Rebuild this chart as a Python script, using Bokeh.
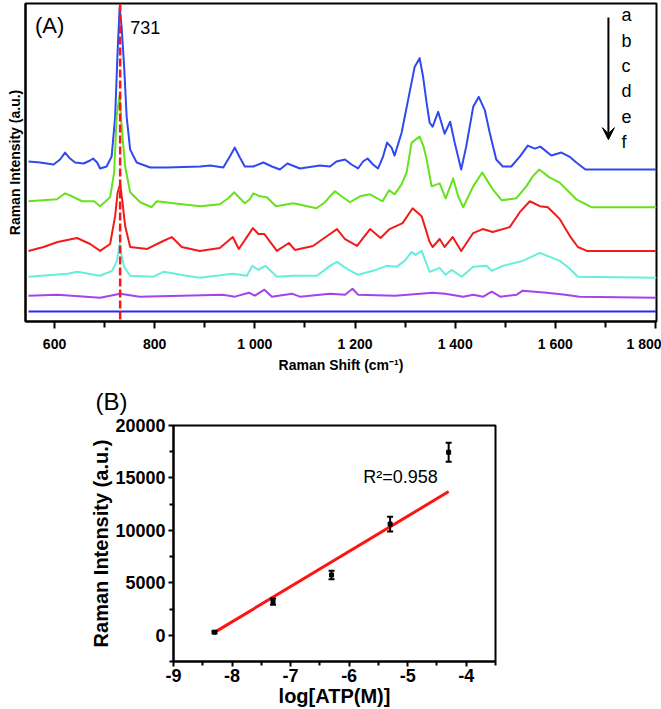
from bokeh.plotting import figure
from bokeh.models import (Range1d, FixedTicker, Span, Label, Title,
                          Arrow, VeeHead, Whisker, TeeHead, ColumnDataSource)
from bokeh.embed import file_html
from bokeh.resources import INLINE

FONT = "Liberation Sans"

# ---------------- Panel A : SERS spectra (a.u., offset traces) ----------------
wn_a = [548, 571, 598, 611, 621, 631, 641, 658, 671, 677, 685, 691, 704, 714, 721, 726, 730, 734, 739,
        744, 751, 764, 791, 824, 891, 911, 937, 950, 960, 970, 980, 997, 1017, 1034, 1050, 1065,
        1090, 1130, 1150, 1163, 1180, 1193, 1206, 1216, 1225, 1236, 1246, 1256, 1264, 1273, 1279,
        1293, 1306, 1319, 1329, 1336, 1343, 1349, 1355, 1366, 1379, 1390, 1399, 1412, 1422, 1436,
        1447, 1459, 1469, 1482, 1495, 1512, 1529, 1545, 1559, 1570, 1592, 1612, 1628, 1642, 1660, 1802]
int_a = [161, 160, 158, 163, 170, 164, 160, 159, 162, 164, 160, 154, 156, 166, 206, 273, 316, 296, 256,
         206, 173, 160, 155, 155, 156, 157, 155, 166, 175, 165, 156, 156, 160, 156, 153, 159,
         154, 157, 156, 161, 163, 158, 154, 161, 164, 158, 154, 166, 180, 175, 167,
         190, 223, 256, 265, 246, 220, 200, 196, 211, 189, 201, 180, 153, 176, 216,
         226, 213, 190, 163, 156, 156, 166, 177, 174, 176, 167, 170, 166, 160, 153, 153]

wn_b = [548, 605, 621, 635, 655, 679, 691, 711, 719, 724, 730, 734, 741, 751, 771, 794, 804, 837, 891,
        930, 947, 959, 970, 980, 990, 997, 1010, 1024, 1034, 1042, 1077, 1123, 1140, 1150, 1160,
        1173, 1190, 1210, 1230, 1255, 1268, 1279, 1293, 1303, 1313, 1329, 1337, 1343, 1353, 1369,
        1381, 1396, 1406, 1416, 1436, 1454, 1465, 1475, 1493, 1522, 1542, 1555, 1568, 1588, 1608,
        1642, 1672, 1802]
int_b = [121, 123, 129, 126, 121, 121, 116, 125, 150, 206, 228, 196, 156, 130, 120, 115, 121, 119, 116,
         118, 124, 130, 124, 119, 123, 129, 126, 125, 120, 116, 119, 114, 120, 126, 131,
         126, 120, 126, 128, 121, 132, 128, 138, 150, 180, 186, 176, 163, 136, 139,
         124, 144, 126, 115, 136, 150, 141, 133, 122, 124, 136, 146, 153, 145, 140,
         123, 115, 115]

wn_c = [548, 578, 606, 645, 671, 691, 711, 721, 726, 731, 735, 741, 751, 785, 817, 834, 854, 890, 930,
        956, 968, 996, 1007, 1019, 1044, 1068, 1080, 1116, 1150, 1164, 1180, 1204, 1230, 1251, 1269,
        1295, 1315, 1333, 1349, 1355, 1369, 1379, 1395, 1412, 1436, 1455, 1475, 1509, 1529, 1549,
        1569, 1585, 1609, 1629, 1645, 1663, 1802]
int_c = [71, 75, 80, 84, 78, 71, 78, 106, 130, 138, 123, 96, 75, 73, 81, 85, 75, 71, 74,
         85, 73, 94, 88, 88, 71, 79, 72, 76, 88, 93, 83, 76, 93, 84, 93,
         99, 114, 106, 80, 75, 83, 75, 85, 71, 89, 93, 90, 95, 110, 121,
         116, 115, 103, 86, 75, 71, 71]

wn_d = [548, 626, 645, 691, 715, 724, 730, 734, 739, 751, 797, 817, 864, 890, 956, 984, 995, 1007, 1021,
        1044, 1077, 1124, 1150, 1164, 1184, 1206, 1236, 1263, 1283, 1299, 1313, 1321, 1333, 1349,
        1369, 1381, 1393, 1413, 1436, 1463, 1473, 1495, 1535, 1569, 1609, 1629, 1645, 1802]
int_d = [45, 48, 50, 46, 51, 60, 78, 66, 55, 46, 45, 50, 46, 44, 48, 46, 56, 52, 56,
         45, 46, 46, 56, 60, 53, 47, 51, 56, 55, 61, 70, 67, 71, 50,
         54, 47, 52, 45, 55, 56, 51, 56, 61, 69, 61, 53, 45, 44]

wn_e = [548, 606, 691, 731, 770, 936, 960, 988, 1000, 1019, 1034, 1074, 1090, 1150, 1180, 1195, 1206,
        1280, 1355, 1380, 1416, 1436, 1456, 1473, 1490, 1523, 1535, 1583, 1620, 1648, 1802]
int_e = [26, 27, 24, 28, 25, 27, 25, 29, 26, 32, 25, 28, 25, 28, 27, 33, 27,
         26, 29, 28, 25, 27, 25, 30, 25, 27, 31, 29, 27, 25, 24]

wn_f = [548, 1802]
int_f = [10, 10]

curve_labels = ["a", "b", "c", "d", "e", "f"]
curve_colors = ["#2f48f0", "#66e21c", "#f01c1c", "#66eedc", "#a444e8", "#2a2af0"]

tick_major = [600, 800, 1000, 1200, 1400, 1600, 1800]
tick_labels = ["600", "800", "1 000", "1 200", "1 400", "1 600", "1 800"]
tick_minor = [700, 900, 1100, 1300, 1500, 1700]
peak_wn = 731

# ---------------- Panel B : calibration ----------------
log_atp = [-8.3, -7.3, -6.3, -5.3, -4.3]
raman_int = [300, 3200, 5750, 10600, 17450]
raman_err = [100, 300, 400, 700, 900]
fit_x = [-8.3, -4.3]
fit_y = [280, 13700]
r2_text = "R\u00b2=0.958"
b_xticks = [-9, -8, -7, -6, -5, -4]
b_xlabels = ["-9", "-8", "-7", "-6", "-5", "-4"]
b_xminor = [-8.5, -7.5, -6.5, -5.5, -4.5, -3.5]
b_yticks = [0, 5000, 10000, 15000, 20000]
b_yminor = [-2500, 2500, 7500, 12500, 17500]


def style_axes(p, tick_size, label_size):
    for ax in (p.xaxis, p.yaxis):
        ax.axis_line_color = "black"
        ax.axis_line_width = 2
        ax.major_tick_line_width = 2
        ax.minor_tick_line_width = 2
        ax.major_tick_in = 0
        ax.minor_tick_in = 0
        ax.major_label_text_font = FONT
        ax.major_label_text_font_style = "bold"
        ax.major_label_text_font_size = tick_size
        ax.major_label_text_color = "black"
        ax.axis_label_text_font = FONT
        ax.axis_label_text_font_style = "bold"
        ax.axis_label_text_font_size = label_size
        ax.axis_label_text_color = "black"
    p.grid.visible = False
    p.outline_line_color = "black"
    p.outline_line_width = 2
    p.outline_line_alpha = 1


pA = figure(width=661, height=375, x_range=Range1d(542, 1802), y_range=Range1d(0, 320),
            output_backend="svg", toolbar_location=None,
            min_border_left=25, min_border_right=5, min_border_top=3, min_border_bottom=52)
style_axes(pA, "14px", "14px")
pA.xaxis.ticker = FixedTicker(ticks=tick_major, minor_ticks=tick_minor)
pA.xaxis.major_label_overrides = {t: s for t, s in zip(tick_major, tick_labels)}
pA.xaxis.major_tick_out = 7
pA.xaxis.minor_tick_out = 6
pA.xaxis.major_label_standoff = 7
pA.xaxis.axis_label_standoff = 2
pA.xaxis.axis_label = "Raman Shift (cm\u207b\u00b9)"
pA.yaxis.ticker = FixedTicker(ticks=[])
pA.yaxis.major_tick_out = 0
pA.yaxis.minor_tick_out = 0
pA.yaxis.major_label_text_font_size = "0px"
pA.yaxis.major_label_standoff = 0
pA.yaxis.axis_label_standoff = 3
pA.yaxis.axis_label = "Raman Intensity (a.u.)"

series = [(wn_a, int_a), (wn_b, int_b), (wn_c, int_c), (wn_d, int_d), (wn_e, int_e), (wn_f, int_f)]
for (xs, ys), col in zip(series, curve_colors):
    pA.line(xs, ys, line_color=col, line_width=2, line_join="round")

pA.add_layout(Span(location=peak_wn, dimension="height", line_color="#ff1414",
                   line_width=2.5, line_dash="8 3"))

pA.add_layout(Label(x=561, y=298, text="(A)", text_font=FONT, text_font_size="22px",
                    text_color="black", text_baseline="alphabetic"))
pA.add_layout(Label(x=751, y=296, text=str(peak_wn), text_font=FONT, text_font_size="18px",
                    text_color="black", text_baseline="alphabetic"))

arrow_x = 1706
pA.add_layout(Arrow(end=VeeHead(size=12, fill_color="black", line_color="black"),
                    x_start=arrow_x, y_start=306, x_end=arrow_x, y_end=183,
                    line_color="black", line_width=2))
for i, lab in enumerate(curve_labels):
    pA.add_layout(Label(x=1732, y=308 - 25.5 * i, text=lab, text_font=FONT,
                        text_font_size="18px", text_color="black", text_baseline="alphabetic"))

pB = figure(width=661, height=334, x_range=Range1d(-9, -3.5), y_range=Range1d(-2500, 20000),
            output_backend="svg", toolbar_location=None,
            min_border_left=173, min_border_right=166, min_border_top=50, min_border_bottom=44)
style_axes(pB, "18px", "20px")
pB.xaxis.ticker = FixedTicker(ticks=b_xticks, minor_ticks=b_xminor)
pB.xaxis.major_label_overrides = {t: s for t, s in zip(b_xticks, b_xlabels)}
pB.yaxis.ticker = FixedTicker(ticks=b_yticks, minor_ticks=b_yminor)
for ax in (pB.xaxis, pB.yaxis):
    ax.major_tick_out = 5
    ax.minor_tick_out = 4
    ax.axis_label_standoff = 0
pB.xaxis.major_label_standoff = 2
pB.yaxis.major_label_standoff = 3
pB.xaxis.axis_label = "log[ATP(M)]"
pB.yaxis.axis_label = "Raman Intensity (a.u.)"

src = ColumnDataSource(data=dict(
    x=log_atp, y=raman_int,
    upper=[v + e for v, e in zip(raman_int, raman_err)],
    lower=[v - e for v, e in zip(raman_int, raman_err)]))

pB.line(fit_x, fit_y, line_color="#ff1414", line_width=3)
wh = Whisker(source=src, base="x", upper="upper", lower="lower", line_color="black", line_width=2,
             upper_head=TeeHead(size=6, line_width=2, line_color="black"),
             lower_head=TeeHead(size=6, line_width=2, line_color="black"), level="overlay")
pB.add_layout(wh)
pB.scatter("x", "y", source=src, marker="square", size=4, color="black")

pB.add_layout(Label(x=-5.76, y=15050, text=r2_text, text_font=FONT, text_font_size="18px",
                    text_color="black", text_baseline="alphabetic"))
pB.add_layout(Title(text="(B)", align="left", offset=-78, standoff=21, text_font=FONT,
                    text_font_size="24px", text_font_style="normal", text_color="black"), "above")

open("out.html", "w").write(file_html([pA, pB], INLINE))
